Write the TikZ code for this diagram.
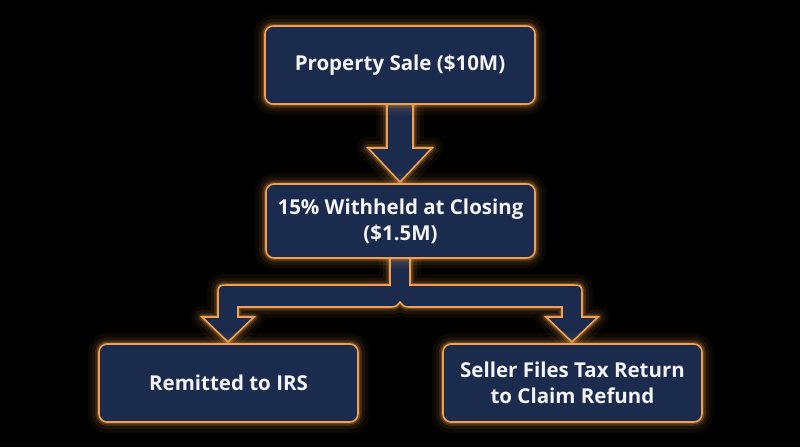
\documentclass[tikz,border=0pt]{standalone}
\usepackage{fontspec}
\setmainfont{Open Sans}
\definecolor{navy}{HTML}{1B2B4D}
\definecolor{glowor}{HTML}{F0A050}
\definecolor{txt}{HTML}{F4F4F6}
\tikzset{
  glow/.style={
    preaction={draw=glowor,opacity=0.05,line width=22pt,line join=round},
    preaction={draw=glowor,opacity=0.08,line width=14pt,line join=round},
    preaction={draw=glowor,opacity=0.14,line width=8pt,line join=round},
    preaction={draw=glowor,opacity=0.25,line width=4.5pt,line join=round}},
  box/.style={glow,rounded corners=8pt,fill=navy,draw=glowor,line width=1.6pt,
    text=txt,align=center,font=\bfseries\fontsize{20.5}{26}\selectfont,inner sep=0pt},
  barrow/.style={glow,fill=navy,draw=glowor,line width=1.6pt,line join=miter}
}
\begin{document}
\begin{tikzpicture}[x=1pt,y=-1pt]
\fill[black] (0,0) rectangle (800,447);
\useasboundingbox (0,0) rectangle (800,447);
% arrows first
\draw[barrow] (387,100) -- (387,148) -- (368,148) -- (400,182) -- (432,148) -- (413,148) -- (413,100) -- cycle;
\draw[barrow] (390,255) -- (390,285) -- (230,285) .. controls (218,285) .. (218,297) -- (218,317) -- (202,317) -- (228,342) -- (254,317) -- (238,317) -- (238,307) -- (388,307) .. controls (396,307) .. (400,302) .. controls (404,307) .. (412,307) -- (562,307) -- (562,317) -- (546,317) -- (572,342) -- (598,317) -- (582,317) -- (582,297) .. controls (582,285) .. (570,285) -- (410,285) -- (410,255) -- cycle;
% boxes
\node[box,minimum width=270pt,minimum height=78pt] (sale) at (400,65) {Property Sale (\$10M)};
\node[box,minimum width=269pt,minimum height=74pt] (held) at (400.5,221) {15\% Withheld at Closing\\(\$1.5M)};
\node[box,minimum width=259pt,minimum height=78pt] (irs) at (228.5,383) {Remitted to IRS};
\node[box,minimum width=259pt,minimum height=78pt] (refund) at (572.5,383) {Seller Files Tax Return\\to Claim Refund};
\end{tikzpicture}
\end{document}
